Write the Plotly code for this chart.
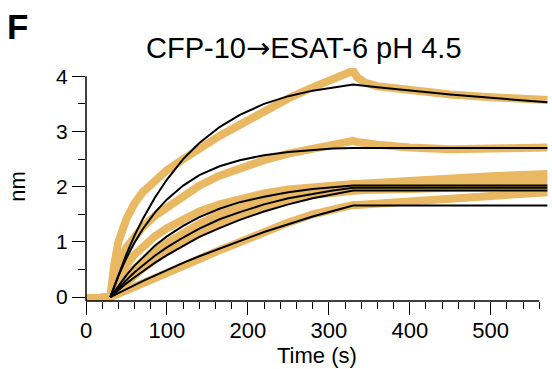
import plotly.graph_objects as go

# ---- data ----
# measured traces (orange)
t_data = [0, 10, 20, 28, 30, 35, 40, 50, 60, 70, 85, 100, 120, 140, 165, 190, 220, 250, 280, 305, 330, 335, 345, 360, 400, 450, 500, 570]
data_1 = [-0.03, -0.02, -0.03, -0.02, 0.0, 0.60, 1.00, 1.42, 1.70, 1.90, 2.12, 2.30, 2.50, 2.70, 2.92, 3.12, 3.37, 3.60, 3.80, 3.95, 4.10, 3.98, 3.88, 3.82, 3.74, 3.67, 3.62, 3.57]
data_2 = [-0.03, -0.02, -0.03, -0.02, 0.0, 0.35, 0.60, 0.90, 1.10, 1.27, 1.47, 1.63, 1.85, 2.02, 2.20, 2.33, 2.48, 2.60, 2.70, 2.77, 2.83, 2.81, 2.78, 2.76, 2.71, 2.68, 2.69, 2.71]
data_3 = [-0.03, -0.02, -0.03, -0.02, 0.0, 0.20, 0.35, 0.58, 0.77, 0.92, 1.10, 1.25, 1.42, 1.55, 1.68, 1.78, 1.88, 1.95, 2.00, 2.03, 2.05, 2.05, 2.06, 2.08, 2.12, 2.16, 2.19, 2.23]
data_4 = [-0.03, -0.02, -0.03, -0.02, 0.0, 0.10, 0.20, 0.38, 0.52, 0.65, 0.82, 0.98, 1.17, 1.33, 1.50, 1.64, 1.77, 1.87, 1.94, 1.98, 2.01, 2.01, 2.02, 2.03, 2.06, 2.09, 2.11, 2.14]
data_5 = [-0.03, -0.02, -0.03, -0.02, 0.0, 0.07, 0.14, 0.28, 0.40, 0.52, 0.68, 0.83, 1.00, 1.15, 1.32, 1.48, 1.63, 1.76, 1.85, 1.90, 1.93, 1.93, 1.94, 1.94, 1.96, 1.98, 1.99, 2.00]
data_6 = [-0.03, -0.02, -0.03, -0.02, 0.0, 0.03, 0.06, 0.12, 0.18, 0.24, 0.34, 0.44, 0.57, 0.69, 0.85, 1.00, 1.18, 1.35, 1.50, 1.60, 1.67, 1.67, 1.68, 1.70, 1.74, 1.79, 1.84, 1.90]

# fitted curves (black)
t_fit = [30, 40, 50, 60, 70, 85, 100, 120, 140, 165, 190, 220, 250, 280, 305, 330, 360, 400, 450, 500, 570]
fit_1 = [0.0, 0.41, 0.78, 1.12, 1.41, 1.80, 2.13, 2.50, 2.79, 3.08, 3.30, 3.50, 3.64, 3.74, 3.80, 3.85, 3.80, 3.74, 3.67, 3.61, 3.53]
fit_2 = [0.0, 0.38, 0.71, 0.99, 1.23, 1.53, 1.77, 2.02, 2.21, 2.37, 2.48, 2.57, 2.63, 2.67, 2.69, 2.70, 2.70, 2.70, 2.70, 2.70, 2.70]
fit_3 = [0.0, 0.21, 0.40, 0.57, 0.72, 0.93, 1.10, 1.29, 1.45, 1.60, 1.72, 1.82, 1.90, 1.96, 1.99, 2.02, 2.02, 2.02, 2.02, 2.02, 2.02]
fit_4 = [0.0, 0.16, 0.31, 0.45, 0.57, 0.75, 0.90, 1.08, 1.24, 1.41, 1.54, 1.68, 1.79, 1.87, 1.93, 1.98, 1.98, 1.98, 1.98, 1.98, 1.98]
fit_5 = [0.0, 0.13, 0.25, 0.36, 0.47, 0.62, 0.76, 0.93, 1.09, 1.25, 1.40, 1.55, 1.68, 1.79, 1.86, 1.93, 1.93, 1.93, 1.93, 1.93, 1.93]
fit_6 = [0.0, 0.075, 0.15, 0.22, 0.29, 0.39, 0.49, 0.62, 0.74, 0.88, 1.02, 1.18, 1.32, 1.46, 1.56, 1.66, 1.66, 1.66, 1.66, 1.66, 1.66]

x_ticks = [0, 100, 200, 300, 400, 500]
y_ticks = [0, 1, 2, 3, 4]

title_left = "CFP-10"
title_arrow = "\u2192"
title_right = "ESAT-6 pH 4.5"
panel_label = "F"
x_title = "Time (s)"
y_title = "nm"

ORANGE = "#E9B862"
FONT = "Arial, Liberation Sans, sans-serif"

fig = go.Figure()
for ys in [data_1, data_2, data_3, data_4, data_5, data_6]:
    fig.add_trace(go.Scatter(x=t_data, y=ys, mode="lines",
                             line=dict(color=ORANGE, width=8),
                             hoverinfo="skip", showlegend=False))
for ys in [fit_1, fit_2, fit_3, fit_4, fit_5, fit_6]:
    fig.add_trace(go.Scatter(x=t_fit, y=ys, mode="lines",
                             line=dict(color="black", width=2),
                             hoverinfo="skip", showlegend=False))

fig.update_layout(
    width=552, height=369,
    margin=dict(l=86, r=3, t=68, b=68, autoexpand=False),
    plot_bgcolor="white", paper_bgcolor="white",
    font=dict(family=FONT, color="black"),
    showlegend=False,
)
fig.update_xaxes(
    range=[0, 572], showgrid=False, zeroline=False, showline=False, automargin=False,
    tickvals=x_ticks, ticks="outside", ticklen=13, tickwidth=1.3, tickcolor="black",
    tickfont=dict(size=22, family=FONT), ticklabelstandoff=-3,
    minor=dict(dtick=20, tick0=0, ticks="outside", ticklen=7, tickwidth=1.3, tickcolor="black"),
)
fig.update_yaxes(
    range=[-0.07, 4.15], showgrid=False, zeroline=False, showline=False, automargin=False,
    tickvals=y_ticks, ticks="outside", ticklen=13, tickwidth=1.3, tickcolor="black",
    tickfont=dict(size=21, family=FONT),
    minor=dict(dtick=0.5, tick0=0, ticks="outside", ticklen=7, tickwidth=1.3, tickcolor="black"),
)
# axis lines
fig.add_shape(type="line", xref="x", yref="paper", x0=0, x1=560, y0=0, y1=0,
              line=dict(color="black", width=1.5))
fig.add_shape(type="line", xref="paper", yref="y", x0=0, x1=0, y0=-0.07, y1=4.0,
              line=dict(color="black", width=1.5))

title_html = (title_left + "<span style='font-family:DejaVu Sans'>" + title_arrow +
              "</span>" + title_right)
fig.add_annotation(text=title_html, xref="paper", yref="paper", x=0.471, y=1.086,
                   xanchor="center", yanchor="middle", showarrow=False,
                   font=dict(size=29, family=FONT))
fig.add_annotation(text="<b>" + panel_label + "</b>", xref="paper", yref="paper", x=-0.147, y=1.18,
                   xanchor="center", yanchor="middle", showarrow=False,
                   font=dict(size=35, family=FONT))
fig.add_annotation(text=y_title, xref="paper", yref="paper", x=-0.147, y=0.494,
                   xanchor="center", yanchor="middle", showarrow=False, textangle=-90,
                   font=dict(size=22, family=FONT))
fig.add_annotation(text=x_title, xref="paper", yref="paper", x=0.499, y=-0.232,
                   xanchor="center", yanchor="middle", showarrow=False,
                   font=dict(size=22, family=FONT))

fig.write_html("out.html", config={"displayModeBar": False},
               post_script="document.body.style.margin='0';document.body.style.padding='0';")
